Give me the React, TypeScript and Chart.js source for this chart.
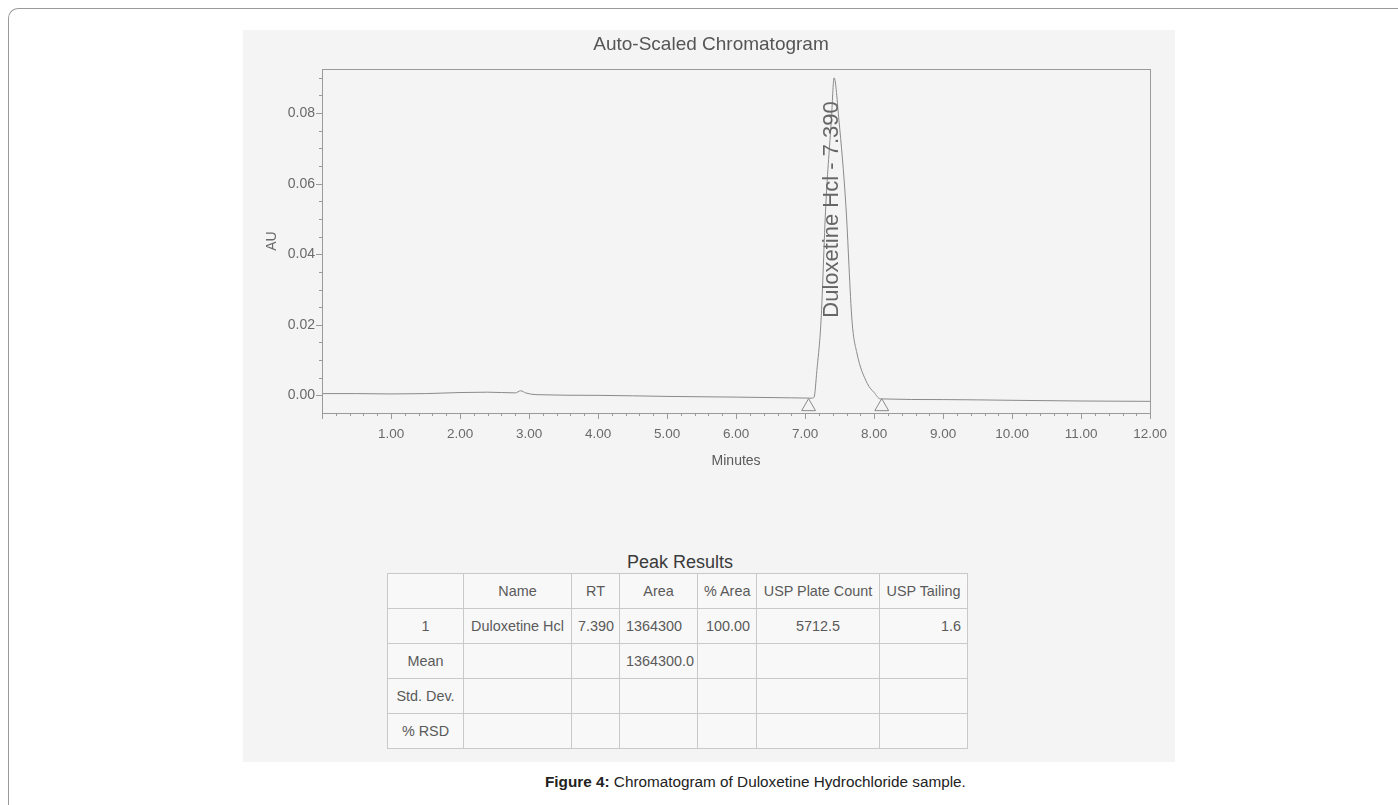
import React, { useEffect, useRef } from "react";
import { Chart, registerables } from "chart.js";

Chart.register(...registerables);

// ---------- data ----------
const timeMin = [
  0.0, 0.5, 1.0, 1.5, 2.0, 2.4, 2.8, 2.88, 2.95, 3.1, 4.0, 5.0, 6.0, 6.8, 7.1,
  7.13, 7.17, 7.23, 7.3, 7.38, 7.42, 7.49, 7.59, 7.68, 7.75, 7.9, 8.0, 8.09,
  9.0, 10.0, 11.0, 12.0,
];
const signalAU = [
  0.0005, 0.0005, 0.0004, 0.0005, 0.0008, 0.0009, 0.0007, 0.0013, 0.0007,
  0.0002, 0.0, -0.0003, -0.0005, -0.0007, -0.0008,
  -0.0005, 0.007, 0.021, 0.054, 0.078, 0.0900, 0.078, 0.054, 0.021, 0.012,
  0.0034, 0.0008, -0.0010,
  -0.0012, -0.0014, -0.0016, -0.0017,
];
const markerTimes = [7.05, 8.11];
const markerLevelAU = -0.0032;

const peakName = "Duloxetine Hcl";
const peakRT = 7.39;
const peakLabelStartAU = 0.022;

const xTickValues = [1, 2, 3, 4, 5, 6, 7, 8, 9, 10, 11, 12];
const yTickValues = [0, 0.02, 0.04, 0.06, 0.08];
const xMinorStep = 0.2;
const yMinorStep = 0.005;

const tableHeader = ["", "Name", "RT", "Area", "% Area", "USP Plate Count", "USP Tailing"];
const tableRows = [
  ["1", "Duloxetine Hcl", "7.390", "1364300", "100.00", "5712.5", "1.6"],
  ["Mean", "", "", "1364300.0", "", "", ""],
  ["Std. Dev.", "", "", "", "", "", ""],
  ["% RSD", "", "", "", "", "", ""],
];
const colWidths = [76, 108, 48, 78, 59, 123, 88];
const colAlign: ("center" | "left" | "right")[] = ["center", "center", "center", "left", "right", "center", "right"];

const SANS = '"Liberation Sans", Arial, sans-serif';

const framePlugin = {
  id: "frameTicks",
  afterDatasetsDraw(chart: any) {
    const { ctx, chartArea, scales } = chart;
    const xs = scales.x;
    const ys = scales.y;
    ctx.save();
    ctx.strokeStyle = "#9a9a9a";
    ctx.lineWidth = 1;
    ctx.strokeRect(
      Math.round(chartArea.left) + 0.5,
      Math.round(chartArea.top) + 0.5,
      Math.round(chartArea.right - chartArea.left),
      Math.round(chartArea.bottom - chartArea.top)
    );
    ctx.beginPath();
    for (let v = xs.min; v <= xs.max + 1e-9; v += xMinorStep) {
      const major = Math.abs(v - Math.round(v)) < 1e-6;
      const px = Math.round(xs.getPixelForValue(v)) + 0.5;
      const b = Math.round(chartArea.bottom);
      ctx.moveTo(px, b);
      ctx.lineTo(px, b + (major ? 6 : 3));
    }
    for (let v = 0; v <= ys.max + 1e-9; v += yMinorStep) {
      const major = Math.abs(v / 0.02 - Math.round(v / 0.02)) < 1e-6;
      const py = Math.round(ys.getPixelForValue(v)) + 0.5;
      const l = Math.round(chartArea.left);
      ctx.moveTo(l, py);
      ctx.lineTo(l - (major ? 6 : 3), py);
    }
    ctx.stroke();
    ctx.restore();
  },
};

const peakLabelPlugin = {
  id: "peakLabel",
  afterDatasetsDraw(chart: any) {
    const { ctx, scales } = chart;
    const x = scales.x.getPixelForValue(peakRT);
    const y = scales.y.getPixelForValue(peakLabelStartAU);
    ctx.save();
    ctx.translate(x, y);
    ctx.rotate(-Math.PI / 2);
    ctx.fillStyle = "#666";
    ctx.font = `22px ${SANS}`;
    ctx.textAlign = "left";
    ctx.textBaseline = "middle";
    ctx.fillText(`${peakName} - ${peakRT.toFixed(3)}`, 0, 0);
    ctx.restore();
  },
};

export default function App() {
  const ref = useRef<HTMLCanvasElement>(null);

  useEffect(() => {
    if (!ref.current) return;
    const chart = new Chart(ref.current, {
      type: "line",
      data: {
        datasets: [
          {
            type: "line",
            data: timeMin.map((t, i) => ({ x: t, y: signalAU[i] })),
            borderColor: "#8a8a8a",
            borderWidth: 1,
            pointRadius: 0,
            fill: false,
            cubicInterpolationMode: "monotone",
          } as any,
          {
            type: "scatter",
            data: markerTimes.map((t) => ({ x: t, y: markerLevelAU })),
            pointStyle: "triangle",
            pointRadius: 8,
            backgroundColor: "rgba(0,0,0,0)",
            borderColor: "#8a8a8a",
            borderWidth: 1,
            clip: false,
          } as any,
        ],
      },
      options: {
        animation: false,
        responsive: false,
        events: [],
        layout: { padding: { left: 0, right: 20, top: 0, bottom: 0 } },
        plugins: {
          legend: { display: false },
          tooltip: { enabled: false },
          title: {
            display: true,
            text: "Auto-Scaled Chromatogram",
            color: "#555",
            font: { family: SANS, size: 19, weight: "normal", lineHeight: 1.2 },
            padding: { top: 3.6, bottom: 12.6 },
          },
        },
        scales: {
          x: {
            type: "linear",
            min: 0,
            max: 12,
            bounds: "data",
            grid: { display: false, drawTicks: false, tickLength: 0 },
            border: { display: false },
            afterBuildTicks: (s: any) => {
              s.ticks = [0, ...xTickValues].map((v) => ({ value: v }));
            },
            ticks: {
              autoSkip: false,
              maxRotation: 0,
              padding: 12.9,
              color: "#6a6a6a",
              font: { family: SANS, size: 13.5, lineHeight: 1.2 },
              callback: (v: any) => (Number(v) === 0 ? "" : Number(v).toFixed(2)),
            },
            title: {
              display: true,
              text: "Minutes",
              color: "#5a5a5a",
              font: { family: SANS, size: 14, lineHeight: 1.2 },
              padding: { top: 0, bottom: 10.6 },
            },
            afterFit: (s: any) => {
              s.height = 67;
            },
          } as any,
          y: {
            type: "linear",
            min: -0.005,
            max: 0.0925,
            bounds: "data",
            grid: { display: false, drawTicks: false, tickLength: 0 },
            border: { display: false },
            afterBuildTicks: (s: any) => {
              s.ticks = yTickValues.map((v) => ({ value: v }));
            },
            ticks: {
              padding: 7,
              color: "#6a6a6a",
              font: { family: SANS, size: 14, lineHeight: 1.2 },
              callback: (v: any) => Number(v).toFixed(2),
            },
            title: {
              display: true,
              text: "AU",
              color: "#6a6a6a",
              font: { family: SANS, size: 14, lineHeight: 1.2 },
              padding: { top: 1.6, bottom: 0 },
            },
            afterFit: (s: any) => {
              s.width = 60;
            },
          } as any,
        },
      },
      plugins: [framePlugin, peakLabelPlugin],
    });
    return () => chart.destroy();
  }, []);

  const cellStyle = (ci: number, header: boolean): React.CSSProperties => ({
    width: colWidths[ci],
    minWidth: colWidths[ci],
    maxWidth: colWidths[ci],
    height: 35,
    border: "1px solid #c9c9c9",
    padding: "0 6px",
    textAlign: header ? "center" : colAlign[ci],
    whiteSpace: "nowrap",
    boxSizing: "border-box",
    color: "#5a5a5a",
    fontFamily: SANS,
    fontSize: 14.4,
    overflow: "hidden",
  });

  return (
    <div
      style={{
        position: "fixed",
        left: 0,
        top: 0,
        width: 1398,
        height: 805,
        overflow: "hidden",
        background: "#ffffff",
        fontFamily: SANS,
      }}
    >
      <div
        style={{
          position: "absolute",
          left: 8,
          top: 8,
          width: 1390,
          height: 797,
          borderLeft: "1px solid #9a9a9a",
          borderTop: "1px solid #9a9a9a",
          borderTopLeftRadius: 10,
          boxSizing: "border-box",
        }}
      />
      <div
        style={{
          position: "absolute",
          left: 243,
          top: 30,
          width: 932,
          height: 732,
          background: "#f4f4f4",
        }}
      />
      <div style={{ position: "absolute", left: 262, top: 30, width: 913, height: 450, overflow: "hidden" }}>
        <canvas ref={ref} width={918} height={450} style={{ display: "block", width: 918, height: 450 }} />
      </div>
      <div
        style={{
          position: "absolute",
          left: 580,
          width: 200,
          top: 550,
          textAlign: "center",
          fontFamily: SANS,
          fontSize: 18,
          color: "#3a3a3a",
          lineHeight: "24px",
        }}
      >
        Peak Results
      </div>
      <table
        style={{
          position: "absolute",
          left: 387,
          top: 573,
          width: 580,
          borderCollapse: "collapse",
          tableLayout: "fixed",
          background: "#f8f8f8",
        }}
      >
        <colgroup>
          {colWidths.map((w, i) => (
            <col key={i} style={{ width: w }} />
          ))}
        </colgroup>
        <tbody>
          <tr>
            {tableHeader.map((h, ci) => (
              <td key={ci} style={cellStyle(ci, true)}>
                {h}
              </td>
            ))}
          </tr>
          {tableRows.map((row, ri) => (
            <tr key={ri}>
              {row.map((c, ci) => (
                <td key={ci} style={cellStyle(ci, ci === 0)}>
                  {c}
                </td>
              ))}
            </tr>
          ))}
        </tbody>
      </table>
      <div
        style={{
          position: "absolute",
          left: 545,
          top: 772,
          fontFamily: SANS,
          fontSize: 15.3,
          color: "#222",
          whiteSpace: "nowrap",
          lineHeight: "20px",
        }}
      >
        <b>Figure 4:</b> Chromatogram of Duloxetine Hydrochloride sample.
      </div>
    </div>
  );
}
